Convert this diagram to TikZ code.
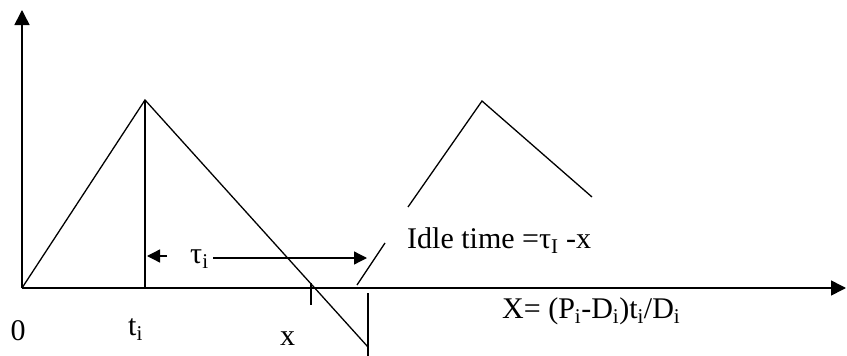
\documentclass[tikz,border=0pt]{standalone}
\usepackage{fontspec}
\setmainfont{Liberation Serif}
\usetikzlibrary{arrows.meta}
\begin{document}
\begin{tikzpicture}[x=1pt,y=-1pt,
 axis/.style={line width=1.6pt,-{Triangle[length=15pt,width=15pt]}},
 curve/.style={line width=1.3pt},
 dim/.style={line width=1.3pt,-{Triangle[length=13pt,width=13pt]}},
 lbl/.style={inner sep=0pt,font=\fontsize{30}{36}\selectfont}]
\useasboundingbox (0,0) rectangle (847,356);
% coordinates
\coordinate (O) at (22,288);
\coordinate (ytop) at (22,10);
\coordinate (xend) at (846,288);
\coordinate (peak) at (145,100);
\coordinate (peakfoot) at (145,288);
\coordinate (low) at (368,347);
\coordinate (vtop) at (368,293);
\coordinate (vbot) at (368,356);
\coordinate (ticktop) at (311,283);
\coordinate (tickbot) at (311,305);
\coordinate (risea) at (357,285);
\coordinate (riseb) at (385,243);
\coordinate (t2a) at (408,207);
\coordinate (t2p) at (482,101);
\coordinate (t2b) at (592,197);
\coordinate (la) at (167,256);
\coordinate (lb) at (147,256);
\coordinate (ra) at (213,258);
\coordinate (rb) at (367,258);
% axes
\draw[axis] (O) -- (ytop);
\draw[axis] (O) -- (xend);
% curves
\draw[curve] (O) -- (peak) -- (low);
\draw[curve] (peak) -- (peakfoot);
\draw[curve] (vtop) -- (vbot);
\draw[curve] (ticktop) -- (tickbot);
\draw[curve] (risea) -- (riseb);
\draw[curve] (t2a) -- (t2p) -- (t2b);
% dimension arrows
\draw[dim] (la) -- (lb);
\draw[dim] (ra) -- (rb);
% labels
\node[lbl,anchor=base west] (tau) at (190,263) {τ\textsubscript{i}};
\node[lbl,anchor=base west] (idle) at (407,248) {Idle time =τ\textsubscript{I} -x};
\node[lbl,anchor=base west] (xeq) at (502,318) {X= (P\textsubscript{i}-D\textsubscript{i})t\textsubscript{i}/D\textsubscript{i}};
\node[lbl,anchor=base] (zero) at (18,340) {0};
\node[lbl,anchor=base west] (ti) at (128,335) {t\textsubscript{i}};
\node[lbl,anchor=base west] (xl) at (280,345) {x};
\end{tikzpicture}
\end{document}
